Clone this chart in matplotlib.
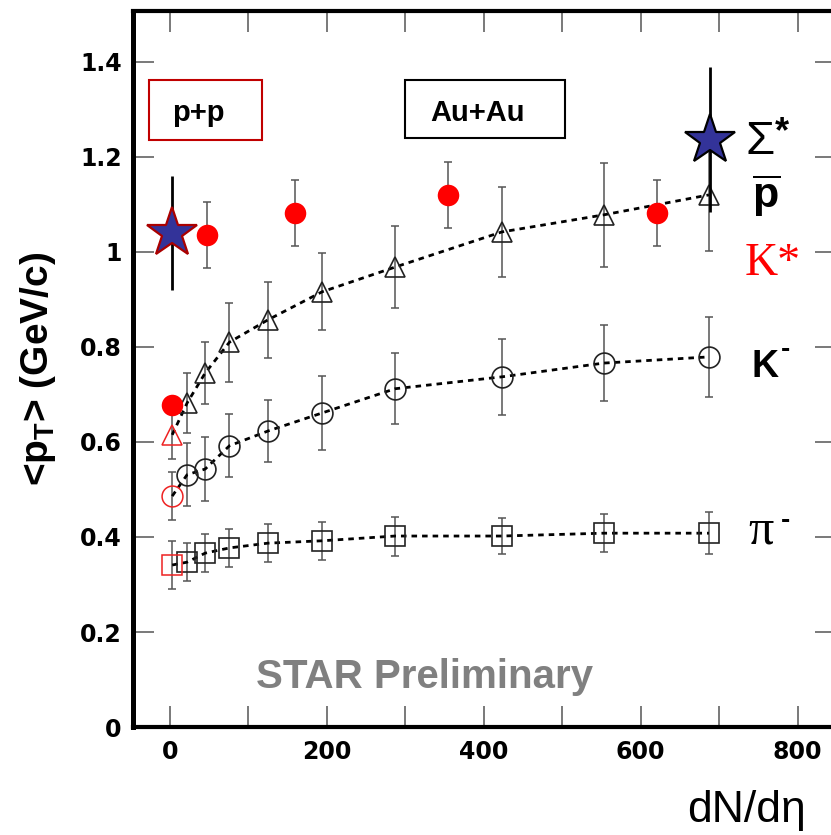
import matplotlib
matplotlib.use("Agg")
import matplotlib.pyplot as plt
from matplotlib.patches import Rectangle
from matplotlib.ticker import MultipleLocator, FuncFormatter

# Au+Au centrality bins (dN/deta) shared by pi-, K-, pbar
auau_x = [22, 45, 76, 125, 194, 287, 423, 553, 687]
pi_auau = [0.347, 0.366, 0.377, 0.387, 0.392, 0.402, 0.402, 0.408, 0.408]
pi_err = [0.040, 0.040, 0.040, 0.040, 0.040, 0.041, 0.038, 0.040, 0.044]
k_auau = [0.531, 0.543, 0.592, 0.623, 0.661, 0.712, 0.737, 0.766, 0.779]
k_err = [0.066, 0.067, 0.066, 0.066, 0.077, 0.075, 0.080, 0.080, 0.084]
p_auau = [0.682, 0.745, 0.810, 0.857, 0.916, 0.968, 1.042, 1.078, 1.120]
p_err = [0.063, 0.066, 0.083, 0.080, 0.081, 0.086, 0.095, 0.110, 0.118]

# K* in Au+Au
kstar_x = [48, 159, 355, 621]
kstar_auau = [1.036, 1.082, 1.120, 1.082]
kstar_err = [0.070, 0.070, 0.070, 0.070]

# Sigma* in Au+Au
sig_x = [689]
sig_auau = [1.236]
sig_err = [0.153]

# p+p reference points
pp_x = 3
pi_pp, pi_pp_err = 0.341, 0.050
k_pp, k_pp_err = 0.486, 0.050
p_pp, p_pp_err = 0.615, 0.050
kstar_pp = 0.678
sig_pp, sig_pp_err = 1.04, 0.12

plt.rcParams["font.family"] = ["Liberation Sans", "DejaVu Sans"]
plt.rcParams["mathtext.default"] = "regular"

fig = plt.figure(figsize=(8.31, 8.35), dpi=100)
ax = fig.add_axes([0.160, 0.1293, 0.846, 0.8575])

ebar = dict(fmt="none", ecolor="#555555", elinewidth=1.1, capsize=2.8, capthick=1.1, zorder=2)
dash = dict(color="black", lw=2.0, ls=(0, (2, 1.8)), zorder=3)
red_open = "#ee2222"

# dashed trend lines through p+p and Au+Au points
for pp_y, series in [(pi_pp, pi_auau), (k_pp, k_auau), (p_pp, p_auau)]:
    ax.plot([pp_x] + auau_x, [pp_y] + series, **dash)

# Au+Au open markers with errors
for series, err, mk in [(pi_auau, pi_err, "s"), (k_auau, k_err, "o"), (p_auau, p_err, "^")]:
    ax.errorbar(auau_x, series, yerr=err, **ebar)
    ax.plot(auau_x, series, ls="none", marker=mk, ms=15, mfc="none", mec="#222222", mew=1.2, zorder=4)

# p+p open red markers
for y, e, mk in [(pi_pp, pi_pp_err, "s"), (k_pp, k_pp_err, "o"), (p_pp, p_pp_err, "^")]:
    ax.errorbar([pp_x], [y], yerr=[e], **ebar)
    ax.plot([pp_x], [y], ls="none", marker=mk, ms=15, mfc="none", mec=red_open, mew=1.1, zorder=4)

# K*
ax.errorbar(kstar_x, kstar_auau, yerr=kstar_err, **ebar)
ax.plot(kstar_x, kstar_auau, ls="none", marker="o", ms=15.5, mfc="#ff0000", mec="none", zorder=5)
ax.plot([pp_x], [kstar_pp], ls="none", marker="o", ms=15.5, mfc="#ff0000", mec="none", zorder=5)

# Sigma*
ax.errorbar([pp_x], [sig_pp], yerr=[sig_pp_err], fmt="none", ecolor="black", elinewidth=2, capsize=0, zorder=5)
ax.plot([pp_x], [sig_pp], ls="none", marker="*", ms=38, mfc="#333399", mec="#aa0000", mew=1.6, zorder=6)
ax.errorbar(sig_x, sig_auau, yerr=sig_err, fmt="none", ecolor="black", elinewidth=2, capsize=0, zorder=5)
ax.plot(sig_x, sig_auau, ls="none", marker="*", ms=38, mfc="#333399", mec="black", mew=1.6, zorder=6)

# axes
ax.set_xlim(-47, 849)
ax.set_ylim(0, 1.507)
ax.xaxis.set_major_locator(MultipleLocator(200))
ax.xaxis.set_minor_locator(MultipleLocator(100))
ax.yaxis.set_major_locator(MultipleLocator(0.2))
ax.yaxis.set_major_formatter(FuncFormatter(lambda v, _: f"{v:g}"))
ax.tick_params(which="both", direction="in", length=15, width=1.1, color="#555555",
               top=True, right=True)
ax.tick_params(axis="x", which="major", pad=9)
ax.tick_params(axis="y", which="major", pad=8)
for lbl in ax.get_xticklabels() + ax.get_yticklabels():
    lbl.set_fontfamily("DejaVu Sans")
    lbl.set_fontweight("bold")
    lbl.set_fontsize(17)
ax.spines["left"].set_linewidth(3.6)
for s in ["bottom", "top", "right"]:
    ax.spines[s].set_linewidth(3.0)

# boxes with collision systems
ax.add_patch(Rectangle((0.0228, 0.8198), 0.1607, 0.0838, transform=ax.transAxes,
                       fill=False, ec="#c00000", lw=1.5, zorder=7))
ax.text(0.093, 0.846, "p+p", transform=ax.transAxes, ha="center", va="baseline",
        fontsize=21, fontweight="bold")
ax.add_patch(Rectangle((0.387, 0.8226), 0.2276, 0.081, transform=ax.transAxes,
                       fill=False, ec="black", lw=1.5, zorder=7))
ax.text(0.4908, 0.846, "Au+Au", transform=ax.transAxes, ha="center", va="baseline",
        fontsize=21, fontweight="bold")

# particle labels
ax.text(0.8706, 0.8003, "Σ", transform=ax.transAxes, fontsize=34, va="baseline")
ax.text(0.913, 0.855, "*", transform=ax.transAxes, fontsize=26, fontweight="bold", va="top")
ax.text(0.8805, 0.7249, r"$\overline{p}$", transform=ax.transAxes, fontsize=31,
        fontweight="bold", va="baseline")
ax.text(0.8706, 0.6313, "K*", transform=ax.transAxes, fontsize=33, color="#ff0000",
        family="Liberation Serif", va="baseline")
ax.text(0.8805, 0.4888, "K", transform=ax.transAxes, fontsize=27, fontweight="bold", va="baseline")
ax.text(0.9218, 0.5265, "-", transform=ax.transAxes, fontsize=20, fontweight="bold", va="center")
ax.text(0.8748, 0.257, "π", transform=ax.transAxes, fontsize=36, family="Liberation Serif",
        va="baseline")
ax.text(0.921, 0.2877, "-", transform=ax.transAxes, fontsize=20, fontweight="bold", va="center")

ax.text(0.4147, 0.0545, "STAR Preliminary", transform=ax.transAxes, ha="center", va="baseline",
        fontsize=29, fontweight="bold", color="#808080")

fig.text(0.0457, 0.558, "<p$_{T}$> (GeV/c)", rotation=90, ha="center", va="center",
         fontsize=28, fontweight="bold")
fig.text(0.970, 0.016, "dN/dη", ha="right", va="baseline", fontsize=32)

fig.savefig("out.png", dpi=100)
